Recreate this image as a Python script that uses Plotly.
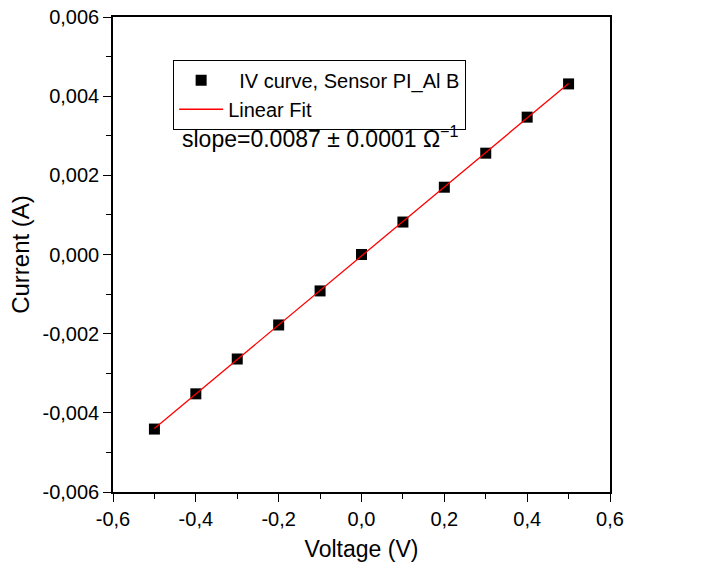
import numpy as np
import plotly.graph_objects as go

voltage = [-0.5, -0.4, -0.3, -0.2, -0.1, 0.0, 0.1, 0.2, 0.3, 0.4, 0.5]
current = [-0.00441, -0.00352, -0.00264, -0.00178, -0.00092, 0.0, 0.00082, 0.00170, 0.00256, 0.00347, 0.00431]
x_ticks = [-0.6, -0.4, -0.2, 0.0, 0.2, 0.4, 0.6]
y_ticks = [-0.006, -0.004, -0.002, 0.0, 0.002, 0.004, 0.006]
x_ticktext = [f"{v:.1f}".replace(".", ",") for v in x_ticks]
y_ticktext = [f"{v:.3f}".replace(".", ",") for v in y_ticks]

slope, intercept = np.polyfit(voltage, current, 1)
fit_x = [voltage[0], voltage[-1]]
fit_y = [slope * v + intercept for v in fit_x]

FONT = "Arial, Liberation Sans, sans-serif"

fig = go.Figure()
fig.add_trace(go.Scatter(x=voltage, y=current, mode="markers",
                         name="  IV curve, Sensor PI_Al B",
                         marker=dict(symbol="square", size=11, color="black")))
fig.add_trace(go.Scatter(x=fit_x, y=fit_y, mode="lines", name="Linear Fit",
                         line=dict(color="red", width=1.3)))

axis_common = dict(showline=True, linecolor="black", linewidth=1.5, mirror=True,
                   ticks="outside", ticklen=8, tickwidth=1.3, tickcolor="black",
                   showgrid=False, zeroline=False, automargin=False,
                   tickfont=dict(family=FONT, size=20, color="black"))

fig.update_layout(
    width=718, height=570,
    margin=dict(l=113, r=108, t=17, b=78),
    paper_bgcolor="white", plot_bgcolor="white",
    font=dict(family=FONT, color="black"),
    xaxis=dict(range=[-0.6, 0.6], tickvals=x_ticks, ticktext=x_ticktext,
               title=dict(text="Voltage (V)", font=dict(size=23), standoff=12),
               minor=dict(dtick=0.1, tick0=-0.6, ticks="outside", ticklen=5, tickwidth=1.3, tickcolor="black"),
               **axis_common),
    yaxis=dict(range=[-0.006, 0.006], tickvals=y_ticks, ticktext=y_ticktext,
               title=dict(text="Current (A)", font=dict(size=24), standoff=6),
               minor=dict(dtick=0.001, tick0=-0.006, ticks="outside", ticklen=5, tickwidth=1.3, tickcolor="black"),
               **axis_common),
    legend=dict(x=0.121, y=0.910, xanchor="left", yanchor="top",
                bordercolor="black", borderwidth=1, bgcolor="white",
                font=dict(size=20, family=FONT),
                itemwidth=44, tracegroupgap=0),
    showlegend=True,
)

fig.add_annotation(x=0.135, y=0.748, xref="paper", yref="paper", xanchor="left", yanchor="middle",
                   text="slope=0.0087 ± 0.0001 Ω<sup>−1</sup>", showarrow=False,
                   font=dict(size=23, family=FONT, color="black"))

fig.write_html("out.html")
